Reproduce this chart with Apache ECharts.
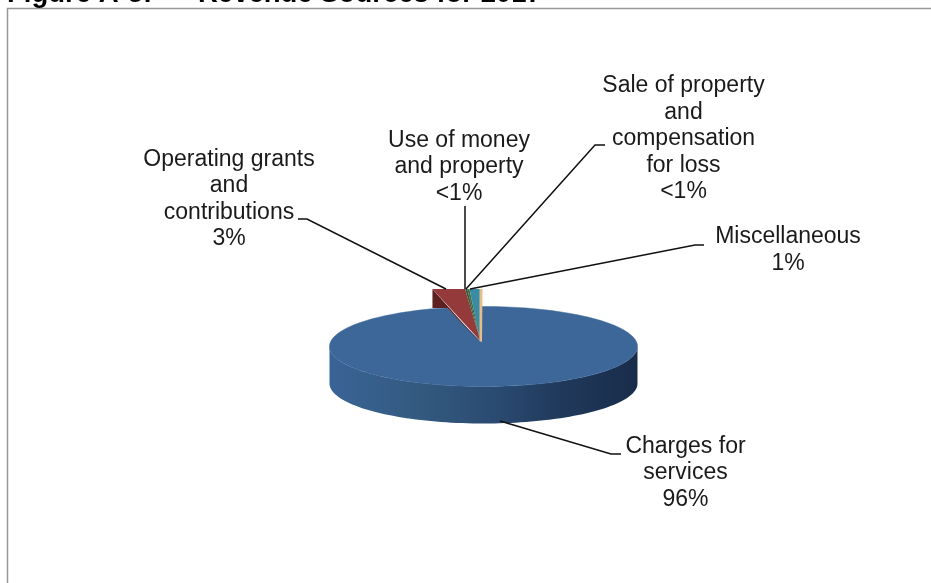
<!DOCTYPE html>
<html>
<head>
<meta charset="utf-8">
<style>html,body{margin:0;padding:0;background:#fff}#chart{width:931px;height:583px}</style>
<script src="https://cdn.jsdelivr.net/npm/echarts@6/dist/echarts.min.js"></script>
</head>
<body>
<div id="chart"></div>
<script>
// Revenue shares, percent of total
const categories = ['Charges for\nservices', 'Operating grants\nand\ncontributions', 'Use of money\nand property', 'Sale of property\nand\ncompensation\nfor loss', 'Miscellaneous'];
const shares = [95.6, 3.0, 0.2, 0.2, 1.0];
const shareLabels = ['96%', '3%', '<1%', '<1%', '1%'];
const sliceColors = ['#3d6799', '#953a3b', '#2f5f3c', '#4b6a35', '#3a8ca6'];
const titleText = 'Figure A-5:\u00a0\u00a0\u00a0\u00a0\u00a0\u00a0Revenue Sources for 2017';

// Drawing geometry for the tilted disc and the raised wedge
const disc = { cx: 483.5, cy: 346.5, rx: 154, ry: 40, depth: 37, apexX: 481, apexY: 342, startDeg: -3.6 };
const wedge = { apexX: 480.5, apexY: 341, radius: 176, topY: 289, drop: 19, foot: 15 };

// Label anchor (centre of the text block) and leader path for each slice
const labelCentres = [[685.5, 473], [229, 199], [459, 167], [683.5, 139], [788, 250]];
const leaders = [
  [[500, 421], [611, 454], [621, 454]],
  [[298, 219], [307, 219], [446, 289]],
  [[465, 206], [465, 289]],
  [[605, 145], [595, 145], [466, 289]],
  [[704, 245], [695, 245], [470, 289]]
];

const rad = d => d * Math.PI / 180;
const total = shares.reduce((a, b) => a + b, 0);
const wedgeSpan = (total - shares[0]) / total * 360;

function discPoint(deg, dy) {
  return [disc.cx + disc.rx * Math.sin(rad(deg)), disc.cy - disc.ry * Math.cos(rad(deg)) + (dy || 0)];
}

function arc(from, to, dy) {
  const pts = [];
  const n = Math.max(2, Math.ceil(Math.abs(to - from) / 2));
  for (let i = 0; i <= n; i++) pts.push(discPoint(from + (to - from) * i / n, dy));
  return pts;
}

// Small slices fan out from the apex; angles measured back from the disc's start
function wedgeX(deg) { return wedge.apexX + wedge.radius * Math.sin(rad(deg)); }

// Charges slice: rim first, then the flat top running up to the wedge's foot
function bigSlice(value, color) {
  const sweep = value / total * 360;
  const start = disc.startDeg;
  const rim = arc(90, 270, 0).concat(arc(270, 90, disc.depth));
  const foot = [wedgeX(-wedgeSpan) + wedge.foot, wedge.topY + wedge.drop];
  const top = [[disc.apexX, disc.apexY]].concat(arc(start, start + sweep), [foot]);
  return [
    { type: 'polygon', shape: { points: rim }, style: { fill: new echarts.graphic.LinearGradient(0, 0, 1, 0, [
      { offset: 0, color: '#3a6496' }, { offset: 0.3, color: '#33597f' }, { offset: 0.55, color: '#2a4a70' },
      { offset: 0.75, color: '#20395b' }, { offset: 1, color: '#192c4a' }
    ]) } },
    { type: 'polygon', shape: { points: top }, style: { fill: color, stroke: color, lineWidth: 0.5 } }
  ];
}

function smallSlice(index, color) {
  const before = shares.slice(index + 1).reduce((a, b) => a + b, 0);
  const right = -before / total * 360;
  const left = right - shares[index] / total * 360;
  const apex = [wedge.apexX, wedge.apexY];
  const top = { type: 'polygon', shape: { points: [apex, [wedgeX(left), wedge.topY], [wedgeX(right), wedge.topY]] }, style: { fill: color } };
  const out = [];
  if (index === 1) {
    const xl = wedgeX(left);
    out.push({ type: 'polygon', shape: { points: [
      [xl, wedge.topY], [xl, wedge.topY + wedge.drop], [xl + wedge.foot, wedge.topY + wedge.drop], [apex[0] - 1, apex[1] + 1]
    ] }, style: { fill: '#5c2120' } });
  }
  out.push(top);
  if (index === shares.length - 1) {
    out.push({ type: 'polygon', shape: { points: [
      [wedgeX(right) - 1, wedge.topY], [wedgeX(right) + 2, wedge.topY], [apex[0] + 1.5, apex[1] + 1], [apex[0] - 1, apex[1]]
    ] }, style: { fill: '#e6bd86' } });
  }
  return out;
}

function renderSlice(params, api) {
  const i = params.dataIndex;
  const faces = i === 0 ? bigSlice(api.value(0), sliceColors[0]) : smallSlice(i, sliceColors[i]);
  return { type: 'group', children: faces };
}

function renderCallout(params, api) {
  const i = params.dataIndex;
  return { type: 'group', children: [
    { type: 'polyline', shape: { points: leaders[i] }, style: { stroke: '#111', lineWidth: 1.5, fill: null } },
    { type: 'text', x: labelCentres[i][0], y: labelCentres[i][1], style: {
      text: categories[i] + '\n' + shareLabels[i], align: 'center', verticalAlign: 'middle',
      font: '23px "Liberation Sans", Arial, sans-serif', lineHeight: 26.5, fill: '#1a1a1a'
    } }
  ] };
}

const chart = echarts.init(document.getElementById('chart'), null, { renderer: 'canvas' });
chart.setOption({
  animation: false,
  backgroundColor: '#fff',
  title: { text: titleText, left: 7, top: -20, padding: 0,
    textStyle: { fontFamily: '"Liberation Sans", Arial, sans-serif', fontWeight: 'bold', fontSize: 27.5, color: '#000' } },
  graphic: [{ type: 'polyline', silent: true, shape: { points: [[7.5, 583], [7.5, 8.5], [931, 8.5]] },
    style: { stroke: '#999', lineWidth: 1.5, fill: null } }],
  series: [
    { type: 'custom', coordinateSystem: 'none', renderItem: renderSlice, data: shares.map(v => [v]), z: 2 },
    { type: 'custom', coordinateSystem: 'none', renderItem: renderCallout, data: shares.map(v => [v]), z: 3 }
  ]
});
</script>
</body>
</html>
